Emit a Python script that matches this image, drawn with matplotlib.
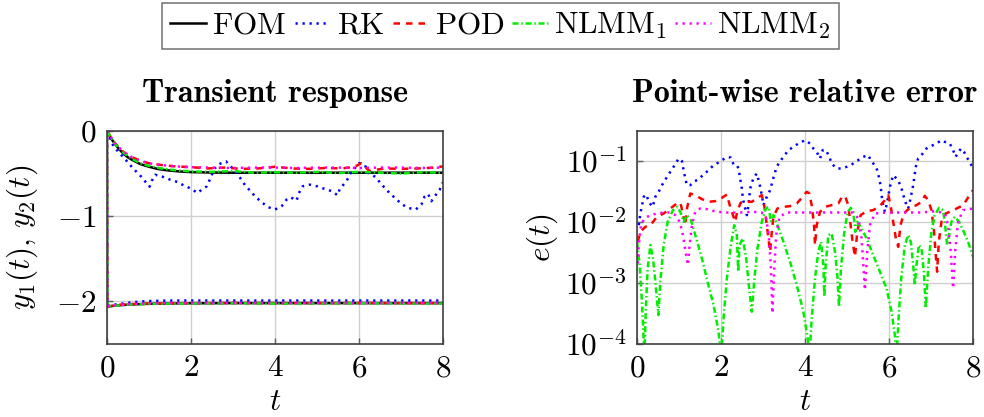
"""Transient response and point-wise relative error of reduced models vs FOM."""

import matplotlib

matplotlib.use("Agg")
import matplotlib.pyplot as plt
import numpy as np

plt.rcParams["font.family"] = "serif"
plt.rcParams["font.serif"] = ["cmr10"]
plt.rcParams["mathtext.fontset"] = "cm"
plt.rcParams["axes.formatter.use_mathtext"] = True

# ---------------------------------------------------------------- left panel
# output y1 (upper branch)
t_y1 = [0, 0.1, 0.2, 0.3, 0.4, 0.5, 0.6, 0.8, 1.0, 1.2, 1.4, 1.6, 1.8, 2.0,
        2.5, 3.0, 4.0, 5.0, 6.0, 7.0, 8.0]
y1_fom = [0, -0.09, -0.16, -0.22, -0.27, -0.31, -0.34, -0.39, -0.42, -0.445,
          -0.46, -0.47, -0.478, -0.483, -0.488, -0.49, -0.49, -0.49, -0.49,
          -0.49, -0.49]

t_rk = [0, 0.158, 0.396, 0.515, 0.634, 0.776, 0.895, 1.014, 1.069, 1.149,
        1.347, 1.505, 1.679, 1.838, 2.004, 2.154, 2.257, 2.376, 2.471, 2.558,
        2.669, 2.836, 2.970, 3.089, 3.184, 3.295, 3.406, 3.525, 3.683, 3.842,
        4.000, 4.158, 4.277, 4.356, 4.436, 4.515, 4.570, 4.657, 4.832, 5.006,
        5.164, 5.362, 5.489, 5.545, 5.703, 5.782, 6.004, 6.139, 6.218, 6.400,
        6.495, 6.614, 6.749, 6.875, 7.010, 7.168, 7.350, 7.485, 7.564, 7.644,
        7.723, 7.802, 7.921, 8.0]
y1_rk = [0, -0.183, -0.311, -0.377, -0.447, -0.514, -0.584, -0.654, -0.584,
         -0.514, -0.541, -0.572, -0.599, -0.642, -0.677, -0.728, -0.689,
         -0.650, -0.545, -0.444, -0.389, -0.358, -0.428, -0.494, -0.560,
         -0.642, -0.700, -0.767, -0.837, -0.895, -0.922, -0.883, -0.805,
         -0.778, -0.794, -0.817, -0.728, -0.650, -0.630, -0.650, -0.677,
         -0.708, -0.755, -0.677, -0.591, -0.506, -0.377, -0.397, -0.494,
         -0.541, -0.603, -0.669, -0.739, -0.794, -0.856, -0.903, -0.922,
         -0.864, -0.767, -0.739, -0.825, -0.767, -0.689, -0.600]

t_pod = [0, 0.2, 0.4, 0.6, 0.8, 1.0, 1.3, 1.6, 2.0, 2.4, 2.8, 3.2, 3.6, 4.0,
         4.4, 4.8, 5.2, 5.6, 5.9, 6.05, 6.25, 6.6, 7.0, 7.4, 7.8, 8.0]
y1_pod = [0, -0.15, -0.25, -0.31, -0.35, -0.38, -0.40, -0.415, -0.425, -0.44,
          -0.43, -0.445, -0.44, -0.42, -0.44, -0.445, -0.435, -0.44, -0.42,
          -0.38, -0.47, -0.44, -0.445, -0.44, -0.43, -0.415]

t_nl = [0, 0.2, 0.4, 0.6, 0.8, 1.0, 1.3, 1.6, 2.0, 2.5, 3.0, 3.5, 4.0, 4.5,
        5.0, 5.5, 6.0, 6.5, 7.0, 7.5, 8.0]
y1_nlmm1 = [0, -0.16, -0.26, -0.33, -0.38, -0.41, -0.44, -0.46, -0.475, -0.48,
            -0.47, -0.49, -0.485, -0.49, -0.48, -0.495, -0.48, -0.49, -0.5,
            -0.485, -0.49]
y1_nlmm2 = [0, -0.15, -0.25, -0.31, -0.35, -0.38, -0.40, -0.415, -0.425,
            -0.43, -0.435, -0.43, -0.43, -0.435, -0.43, -0.43, -0.435, -0.43,
            -0.43, -0.435, -0.43]

# output y2 (lower branch, jumps at t = 0)
t_y2 = [0, 0.005, 0.3, 0.6, 1.0, 1.5, 2.0, 3.0, 4.0, 5.0, 6.0, 7.0, 8.0]
y2_fom = [0, -2.06, -2.045, -2.035, -2.028, -2.024, -2.022, -2.02, -2.02,
          -2.02, -2.02, -2.02, -2.02]
y2_rk = [0, -2.05, -2.03, -2.01, -1.995, -1.99, -1.99, -1.99, -1.99, -1.99,
         -1.99, -1.99, -1.99]
y2_pod = [0, -2.06, -2.04, -2.03, -2.025, -2.02, -2.02, -2.018, -2.02, -2.02,
          -2.018, -2.02, -2.02]
y2_nlmm1 = [0, -2.06, -2.045, -2.035, -2.03, -2.025, -2.025, -2.022, -2.025,
            -2.025, -2.022, -2.025, -2.025]
y2_nlmm2 = [0, -2.055, -2.04, -2.03, -2.025, -2.02, -2.02, -2.02, -2.02,
            -2.02, -2.02, -2.02, -2.02]

# --------------------------------------------------------------- right panel
# log10 of point-wise relative error
te_rk = [0.04, 0.079, 0.119, 0.158, 0.222, 0.277, 0.372, 0.436, 0.515, 0.594,
         0.713, 0.792, 0.895, 0.990, 1.069, 1.109, 1.148, 1.188, 1.267, 1.347,
         1.465, 1.584, 1.703, 1.822, 1.940, 2.020, 2.139, 2.233, 2.297, 2.376,
         2.416, 2.455, 2.495, 2.519, 2.574, 2.614, 2.653, 2.693, 2.772, 2.851,
         2.915, 2.970, 3.010, 3.089, 3.168, 3.231, 3.287, 3.366, 3.485, 3.604,
         3.722, 3.841, 4.000, 4.118, 4.198, 4.277, 4.356, 4.419, 4.499, 4.578,
         4.633, 4.752, 4.871, 4.990, 5.108, 5.227, 5.386, 5.504, 5.584, 5.663,
         5.718, 5.766, 5.797, 5.821, 5.861, 5.900, 5.940, 5.980, 6.019, 6.098,
         6.217, 6.296, 6.352, 6.415, 6.455, 6.494, 6.574, 6.637, 6.692, 6.772,
         6.890, 7.009, 7.128, 7.247, 7.326, 7.445, 7.524, 7.587, 7.643, 7.722,
         7.785, 7.841, 7.920, 8.0]
le_rk = [-2.053, -1.862, -1.726, -1.589, -1.551, -1.671, -1.753, -1.589,
         -1.507, -1.398, -1.262, -1.180, -1.071, -0.962, -1.005, -1.153,
         -1.289, -1.398, -1.398, -1.344, -1.300, -1.224, -1.153, -1.071,
         -1.027, -0.989, -0.940, -0.946, -1.060, -1.071, -1.125, -1.289,
         -1.453, -1.617, -1.780, -1.889, -1.726, -1.453, -1.278, -1.207,
         -1.371, -1.562, -1.726, -1.589, -1.480, -1.316, -1.180, -1.044,
         -0.934, -0.825, -0.771, -0.716, -0.662, -0.716, -0.798, -0.853,
         -0.962, -0.825, -0.825, -0.934, -1.044, -1.125, -1.125, -1.098,
         -1.060, -1.005, -0.934, -0.907, -1.016, -1.071, -1.153, -1.289,
         -1.398, -1.562, -1.726, -1.835, -1.726, -1.589, -1.425, -1.235,
         -1.316, -1.453, -1.589, -1.726, -1.780, -1.671, -1.398, -1.098,
         -0.962, -0.907, -0.798, -0.755, -0.716, -0.662, -0.689, -0.716,
         -0.825, -0.934, -0.853, -0.798, -0.853, -0.934, -1.016, -1.125]

te_pod = [0.016, 0.079, 0.198, 0.317, 0.475, 0.634, 0.792, 0.950, 1.030,
          1.093, 1.148, 1.188, 1.267, 1.386, 1.544, 1.703, 1.861, 2.020,
          2.139, 2.218, 2.297, 2.336, 2.392, 2.471, 2.598, 2.732, 2.867,
          2.970, 3.033, 3.089, 3.128, 3.168, 3.208, 3.247, 3.342, 3.485,
          3.643, 3.802, 3.944, 4.039, 4.103, 4.158, 4.214, 4.237, 4.277,
          4.356, 4.475, 4.633, 4.792, 4.895, 4.958, 5.029, 5.085, 5.132,
          5.188, 5.243, 5.322, 5.465, 5.623, 5.782, 5.900, 5.980, 6.035,
          6.098, 6.162, 6.217, 6.272, 6.352, 6.494, 6.653, 6.772, 6.851,
          6.930, 7.009, 7.065, 7.105, 7.144, 7.184, 7.247, 7.350, 7.484,
          7.643, 7.762, 7.857, 7.936, 8.0]
le_pod = [-2.326, -2.162, -2.080, -2.053, -1.916, -1.862, -1.780, -1.698,
          -1.682, -1.862, -2.053, -1.780, -1.535, -1.562, -1.627, -1.671,
          -1.660, -1.606, -1.551, -1.753, -1.916, -1.998, -1.807, -1.682,
          -1.671, -1.671, -1.606, -1.562, -1.753, -2.053, -2.271, -2.489,
          -2.162, -1.916, -1.780, -1.753, -1.742, -1.698, -1.589, -1.507,
          -1.535, -1.726, -2.053, -2.380, -2.053, -1.835, -1.753, -1.726,
          -1.698, -1.573, -1.589, -1.726, -2.053, -2.326, -2.571, -2.162,
          -1.889, -1.824, -1.807, -1.737, -1.644, -1.562, -1.726, -1.998,
          -2.271, -2.408, -2.053, -1.862, -1.769, -1.726, -1.671, -1.573,
          -1.644, -1.807, -2.107, -2.489, -2.816, -2.326, -1.998, -1.862,
          -1.824, -1.769, -1.726, -1.627, -1.535, -1.480]

te_nlmm1 = [0.0, 0.063, 0.111, 0.143, 0.174, 0.206, 0.253, 0.317, 0.380,
            0.444, 0.507, 0.554, 0.634, 0.729, 0.855, 0.966, 1.045, 1.109,
            1.188, 1.283, 1.410, 1.544, 1.679, 1.822, 1.940, 2.004, 2.059,
            2.138, 2.233, 2.313, 2.376, 2.408, 2.439, 2.519, 2.598, 2.677,
            2.732, 2.788, 2.867, 2.970, 3.065, 3.136, 3.184, 3.247, 3.342,
            3.485, 3.643, 3.802, 3.960, 4.063, 4.103, 4.158, 4.237, 4.316,
            4.380, 4.435, 4.459, 4.491, 4.554, 4.633, 4.712, 4.768, 4.808,
            4.855, 4.926, 5.005, 5.085, 5.148, 5.196, 5.243, 5.322, 5.465,
            5.623, 5.782, 5.940, 6.059, 6.138, 6.178, 6.225, 6.296, 6.376,
            6.455, 6.518, 6.574, 6.613, 6.653, 6.708, 6.772, 6.827, 6.875,
            6.930, 7.009, 7.088, 7.191, 7.286, 7.334, 7.381, 7.429, 7.484,
            7.564, 7.667, 7.778, 7.881, 8.0]
le_nlmm1 = [-2.326, -2.708, -3.253, -3.690, -4.235, -3.471, -2.762, -2.380,
            -2.598, -3.035, -3.526, -2.981, -2.380, -1.998, -1.807, -1.753,
            -1.862, -1.998, -1.889, -1.971, -2.271, -2.598, -2.981, -3.362,
            -3.799, -4.235, -3.581, -2.926, -2.380, -2.053, -2.216, -2.816,
            -2.380, -2.271, -2.598, -3.144, -3.471, -2.981, -2.435, -1.998,
            -1.780, -1.753, -1.998, -1.889, -2.053, -2.326, -2.653, -3.035,
            -3.471, -3.908, -4.235, -3.581, -2.926, -2.489, -2.326, -2.708,
            -3.226, -2.708, -2.216, -2.189, -2.489, -2.871, -3.389, -2.762,
            -2.216, -1.862, -1.769, -1.835, -2.162, -1.998, -2.080, -2.271,
            -2.544, -2.816, -3.089, -3.471, -3.853, -4.235, -3.581, -2.871,
            -2.380, -2.216, -2.326, -2.708, -3.035, -2.708, -2.380, -2.435,
            -2.816, -3.417, -2.762, -2.162, -1.889, -1.769, -1.807, -2.053,
            -2.380, -2.216, -1.998, -1.916, -1.998, -2.162, -2.326, -2.571]

te_nlmm2 = [0.016, 0.040, 0.095, 0.174, 0.317, 0.475, 0.634, 0.792, 0.911,
            1.014, 1.093, 1.156, 1.212, 1.251, 1.307, 1.386, 1.505, 1.663,
            1.901, 2.138, 2.455, 2.772, 2.970, 3.073, 3.136, 3.184, 3.223,
            3.263, 3.311, 3.390, 3.564, 3.960, 4.356, 4.752, 5.148, 5.267,
            5.346, 5.425, 5.481, 5.544, 5.663, 5.940, 6.336, 6.732, 7.128,
            7.326, 7.405, 7.468, 7.524, 7.572, 7.643, 7.762, 8.0]
le_nlmm2 = [-2.680, -2.380, -2.053, -1.944, -1.889, -1.862, -1.846, -1.846,
            -1.889, -1.998, -2.216, -2.489, -2.708, -2.380, -2.053, -1.835,
            -1.780, -1.791, -1.835, -1.846, -1.846, -1.835, -1.846, -1.944,
            -2.216, -2.708, -3.498, -2.816, -2.216, -1.916, -1.846, -1.846,
            -1.846, -1.846, -1.846, -1.944, -2.271, -3.117, -2.489, -2.053,
            -1.862, -1.846, -1.846, -1.846, -1.824, -1.862, -2.053, -2.489,
            -3.089, -2.489, -1.998, -1.807, -1.780]

labels = [r"$\mathrm{FOM}$", r"$\mathrm{RK}$", r"$\mathrm{POD}$",
          r"$\mathrm{NLMM}_1$", r"$\mathrm{NLMM}_2$"]
x_ticks = [0, 2, 4, 6, 8]
x_ticklabels = [r"$0$", r"$2$", r"$4$", r"$6$", r"$8$"]
y_ticks_left = [0, -1, -2]
y_ticklabels_left = [r"$0$", r"$-1$", r"$-2$"]
y_ticks_right = [1e-4, 1e-3, 1e-2, 1e-1]
y_ticklabels_right = [r"$10^{-4}$", r"$10^{-3}$", r"$10^{-2}$", r"$10^{-1}$"]

FS = 22.5
LW = 1.8
styles = {
    "fom": dict(color="black", lw=LW, linestyle="-"),
    "rk": dict(color="#0000ff", lw=LW, linestyle=(0, (0.9, 1.9))),
    "pod": dict(color="#ff0000", lw=LW, linestyle=(0, (2.6, 2.4))),
    "nlmm1": dict(color="#00ee00", lw=LW, linestyle=(0, (2.4, 1.1, 0.6, 1.1))),
    "nlmm2": dict(color="#ff00ff", lw=LW, linestyle=(0, (0.9, 1.9))),
}

fig = plt.figure(figsize=(9.84, 4.17), dpi=100)
ax1 = fig.add_axes([0.1087, 0.175, 0.3415, 0.511])
ax2 = fig.add_axes([0.6474, 0.175, 0.3415, 0.511])

# left: transient response
ax1.plot(t_y1, y1_fom, **styles["fom"], label=labels[0])
ax1.plot(t_y2, y2_fom, **styles["fom"])
ax1.plot(t_rk, y1_rk, **styles["rk"], label=labels[1])
ax1.plot(t_y2, y2_rk, **styles["rk"])
ax1.plot(t_pod, y1_pod, **styles["pod"], label=labels[2])
ax1.plot(t_y2, y2_pod, **styles["pod"])
ax1.plot(t_nl, y1_nlmm1, **styles["nlmm1"], label=labels[3])
ax1.plot(t_y2, y2_nlmm1, **styles["nlmm1"])
ax1.plot(t_nl, y1_nlmm2, **styles["nlmm2"], label=labels[4])
ax1.plot(t_y2, y2_nlmm2, **styles["nlmm2"])
ax1.set_xlim(0, 8)
ax1.set_ylim(-2.5, 0)
ax1.set_yticks(y_ticks_left)
ax1.set_yticklabels(y_ticklabels_left)
ax1.set_ylabel(r"$y_1(t),\, y_2(t)$", fontsize=FS)
ax1.yaxis.set_label_coords(-0.199, 0.5)
ax1.set_title("Transient response", fontfamily="cmb10", fontsize=23, pad=21)

# right: point-wise relative error
ax2.plot(te_rk, np.power(10.0, le_rk), **styles["rk"])
ax2.plot(te_pod, np.power(10.0, le_pod), **styles["pod"])
ax2.plot(te_nlmm1, np.power(10.0, le_nlmm1), **styles["nlmm1"])
ax2.plot(te_nlmm2, np.power(10.0, le_nlmm2), **styles["nlmm2"])
ax2.set_yscale("log")
ax2.set_xlim(0, 8)
ax2.set_ylim(1e-4, 10 ** -0.51)
ax2.set_yticks(y_ticks_right)
ax2.set_yticklabels(y_ticklabels_right)
ax2.yaxis.set_minor_locator(matplotlib.ticker.NullLocator())
ax2.set_ylabel(r"$e(t)$", fontsize=FS)
ax2.yaxis.set_label_coords(-0.229, 0.5)
ax2.set_title("Point-wise relative error", fontfamily="cmb10", fontsize=23, pad=21)

for ax in (ax1, ax2):
    ax.set_xticks(x_ticks)
    ax.set_xticklabels(x_ticklabels)
    ax.set_xlabel(r"$t$", fontsize=FS, va="baseline")
    ax.xaxis.set_label_coords(0.5, -0.31)
    ax.tick_params(direction="in", length=4, width=1, color="#606060",
                   labelsize=FS, pad=7.5)
    ax.grid(True, color="#cfcfcf", lw=1.0)
    ax.set_axisbelow(True)
    for sp in ax.spines.values():
        sp.set_color("#404040")
        sp.set_linewidth(1.2)

leg = fig.legend(loc="upper center", bbox_to_anchor=(0.5086, 0.993), ncol=5,
                 fontsize=FS, handlelength=1.15, handletextpad=0.2,
                 columnspacing=0.25, borderpad=0.25, borderaxespad=0,
                 fancybox=False, framealpha=1, edgecolor="#707070")
leg.get_frame().set_linewidth(1.1)

fig.savefig("out.png", dpi=100)
